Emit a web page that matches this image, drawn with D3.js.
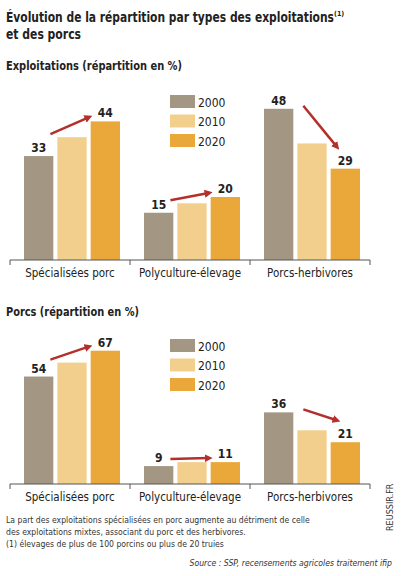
<!DOCTYPE html><html><head><meta charset="utf-8"><script src="https://cdn.jsdelivr.net/npm/d3@7"></script>
<style>body{margin:0;background:#fff}</style></head><body><script>
const categories=["Spécialisées porc","Polyculture-élevage","Porcs-herbivores"];
const years=["2000","2010","2020"];
const exploit2000=[33,15,48], exploit2010=[39,18,37], exploit2020=[44,20,29];
const porcs2000=[54,9,36], porcs2010=[61,11,27], porcs2020=[67,11,21];
const colors=["#a39784","#f3cf8e","#eba83a"];
const W=401,H=576;
const svg=d3.select("body").append("svg").attr("width",W).attr("height",H);
const F="'DejaVu Sans Condensed', 'Liberation Sans Narrow', sans-serif";
svg.append("text").attr("x",6).attr("y",22).attr("font-family",F).attr("font-weight","bold").attr("font-size",14.5).attr("fill","#222")
 .attr("textLength",328).attr("lengthAdjust","spacingAndGlyphs").text("Évolution de la répartition par types des exploitations");
svg.append("text").attr("x",334).attr("y",16).attr("font-family",F).attr("font-weight","bold").attr("font-size",7).attr("fill","#222").text("(1)");
svg.append("text").attr("x",6).attr("y",39).attr("font-family",F).attr("font-weight","bold").attr("font-size",14.5).attr("fill","#222")
 .attr("textLength",75).attr("lengthAdjust","spacingAndGlyphs").text("et des porcs");

function panel(title,titleY,titleLen,data,scalePerUnit,baseY,legY){
  svg.append("text").attr("x",6).attr("y",titleY).attr("font-family",F).attr("font-weight","bold").attr("font-size",13).attr("fill","#222")
   .attr("textLength",titleLen).attr("lengthAdjust","spacingAndGlyphs").text(title);
  const x0=d3.scaleBand().domain(categories).range([10,370]);
  const x1=d3.scaleBand().domain(years).range([14,110]).paddingInner(0.12);
  const y=d3.scaleLinear().domain([0,1]).range([baseY,baseY-scalePerUnit]);
  const g=svg.append("g");
  categories.forEach((c,i)=>{
    const gg=g.append("g").attr("transform",`translate(${x0(c)},0)`);
    years.forEach((yr,j)=>{
      const v=data[j][i];
      gg.append("rect").attr("x",x1(yr)).attr("y",y(v)).attr("width",x1.bandwidth()).attr("height",baseY-y(v)).attr("fill",colors[j]);
      if(j!==1) gg.append("text").attr("x",x1(yr)+x1.bandwidth()/2).attr("y",y(v)-4).attr("text-anchor","middle")
        .attr("font-family",F).attr("font-weight","bold").attr("font-size",12).attr("fill","#222").text(v);
    });
    const up=data[2][i]>=data[0][i];
    let xs,xe,ys,ye;
    if(up){xs=x1("2000")+x1.bandwidth()*0.9; xe=x1("2020")-2; ys=y(data[1][i])-3; ye=y(data[2][i])-4;}
    else{xs=x1("2010")+6; xe=x1("2020")+6; ys=y(data[0][i])-3; ye=y(data[2][i])-22;}
    gg.append("line").attr("x1",xs).attr("y1",ys).attr("x2",xe).attr("y2",ye).attr("stroke","#b3302d").attr("stroke-width",2.5).attr("marker-end","url(#ah)");
  });
  const a=svg.append("g").attr("transform",`translate(0,${baseY})`);
  a.append("line").attr("x1",10).attr("x2",370).attr("stroke","#555");
  [0,1,2,3].forEach(k=>a.append("line").attr("x1",10+120*k).attr("x2",10+120*k).attr("y1",0).attr("y2",5).attr("stroke","#555"));
  categories.forEach(c=>a.append("text").attr("x",x0(c)+x0.bandwidth()/2).attr("y",17).attr("text-anchor","middle").attr("font-family",F).attr("font-size",11.5).attr("fill","#222").text(c));
  years.forEach((yr,j)=>{
    svg.append("rect").attr("x",170).attr("y",legY+19.5*j).attr("width",25).attr("height",13).attr("fill",colors[j]);
    svg.append("text").attr("x",198).attr("y",legY+19.5*j+11.5).attr("font-family",F).attr("font-size",12).attr("fill","#222").text(yr);
  });
}
svg.append("defs").append("marker").attr("id","ah").attr("viewBox","0 0 10 10").attr("refX",5).attr("refY",5).attr("markerWidth",3.2).attr("markerHeight",3.2).attr("orient","auto")
 .append("path").attr("d","M0,0L10,5L0,10z").attr("fill","#b3302d");
panel("Exploitations (répartition en %)",70,176,[exploit2000,exploit2010,exploit2020],3.15,260,95);
panel("Porcs (répartition en %)",316,133,[porcs2000,porcs2010,porcs2020],1.99,484,339);
["La part des exploitations spécialisées en porc augmente au détriment de celle","des exploitations mixtes, associant du porc et des herbivores.","(1) élevages de plus de 100 porcins ou plus de 20 truies"]
 .forEach((t,i)=>svg.append("text").attr("x",6).attr("y",523+12*i).attr("font-family",F).attr("font-size",8.6).attr("fill","#333").text(t));
svg.append("text").attr("x",392).attr("y",566).attr("text-anchor","end").attr("font-family",F).attr("font-style","italic").attr("font-size",8.6).attr("fill","#333").text("Source : SSP, recensements agricoles traitement ifip");
svg.append("text").attr("transform","translate(393,531) rotate(-90)").attr("font-family",F).attr("font-size",9).attr("fill","#333").text("REUSSIR.FR");
</script></body></html>
